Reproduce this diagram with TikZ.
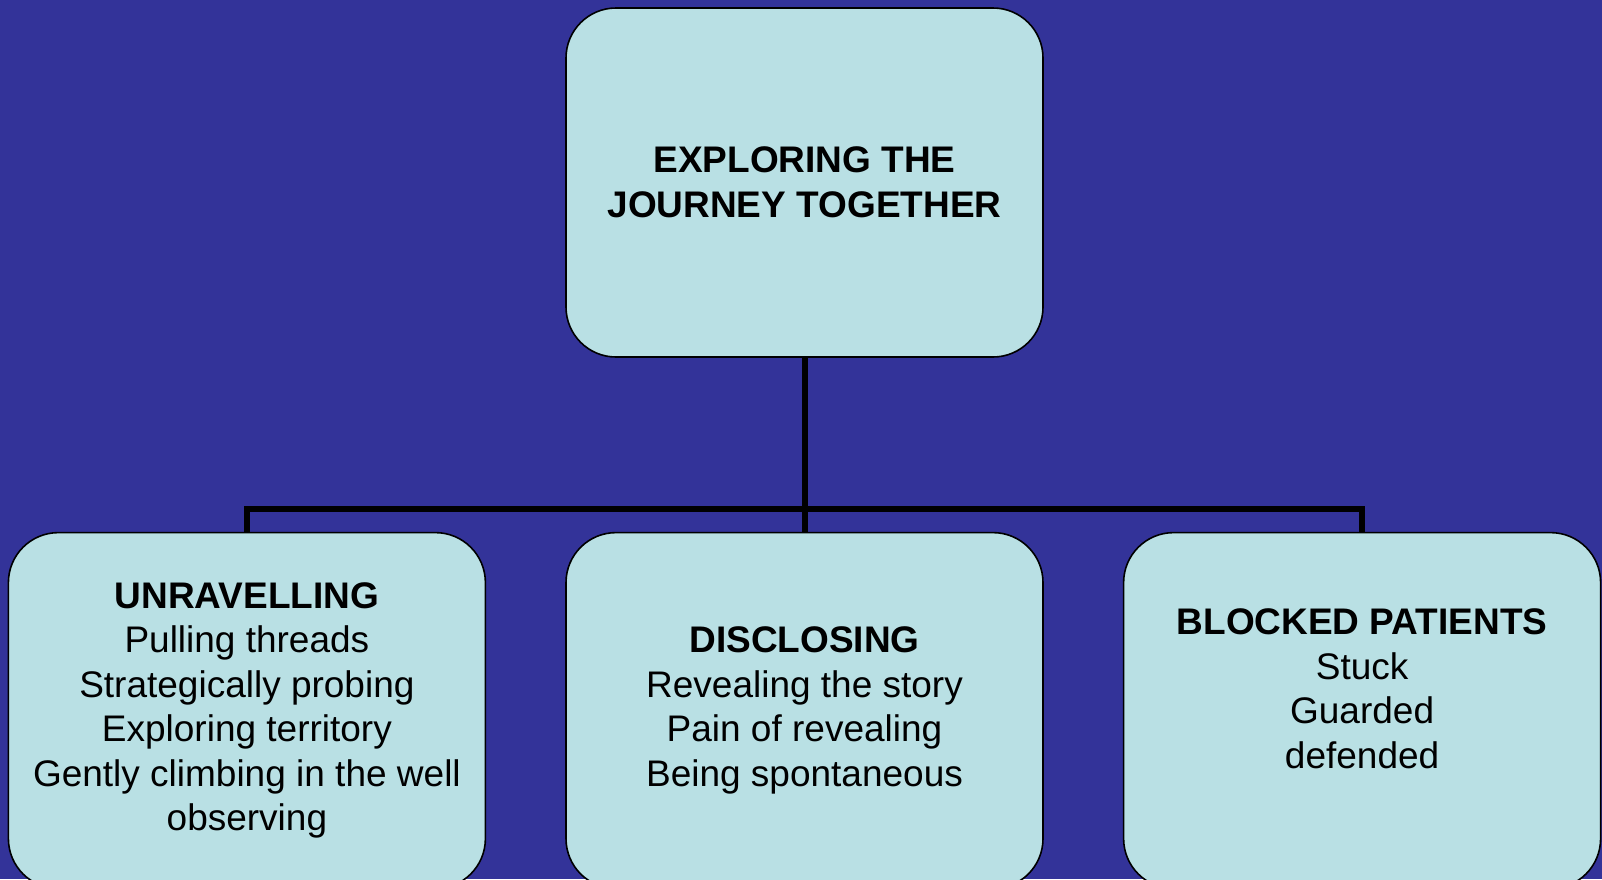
\documentclass[tikz,border=0pt]{standalone}
\usepackage{fontspec}
\setmainfont{Liberation Sans}
\usetikzlibrary{positioning}

\definecolor{slidebg}{RGB}{51, 51, 153}
\definecolor{boxfill}{RGB}{185, 224, 228}

\tikzset{
    box/.style={draw=black, line width=1.6pt, fill=boxfill, rounded corners=50pt,
        minimum width=477pt, minimum height=356pt, inner sep=0pt, align=center,
        font=\fontsize{37}{44.5}\selectfont},
    link/.style={draw=black, line width=6pt},
}

\begin{document}
\begin{tikzpicture}[x=1pt, y=-1pt]
        % Background
        \useasboundingbox (0,0) rectangle (1602,879);
        \clip (0,0) rectangle (1602,879);
        \fill[slidebg] (0,0) rectangle (1602,879);

        % --- Top box ---
        \node[box, minimum height=349pt] (journey) at (804.5,182.5)
            {\textbf{EXPLORING THE}\\\textbf{JOURNEY TOGETHER}};

        % --- Bottom row ---
        \node[box, below=174pt of journey] (disclosing)
            {\textbf{DISCLOSING}\\Revealing the story\\Pain of revealing\\Being spontaneous};
        \node[box, left=79pt of disclosing] (unravelling)
            {\textbf{UNRAVELLING}\\Pulling threads\\Strategically probing\\Exploring territory\\Gently climbing in the well\\observing};
        \node[box, right=79pt of disclosing] (blocked)
            {\textbf{BLOCKED PATIENTS}\\Stuck\\Guarded\\defended\\\mbox{}};

        % Connectors
        \coordinate[below=151pt of journey.south] (split);
        \draw[link] (journey.south) -- (split);
        \draw[link] (split) -- (disclosing.north);
        \draw[link] (split) -| (unravelling.north);
        \draw[link] (split) -| (blocked.north);
    \end{tikzpicture}
\end{document}
